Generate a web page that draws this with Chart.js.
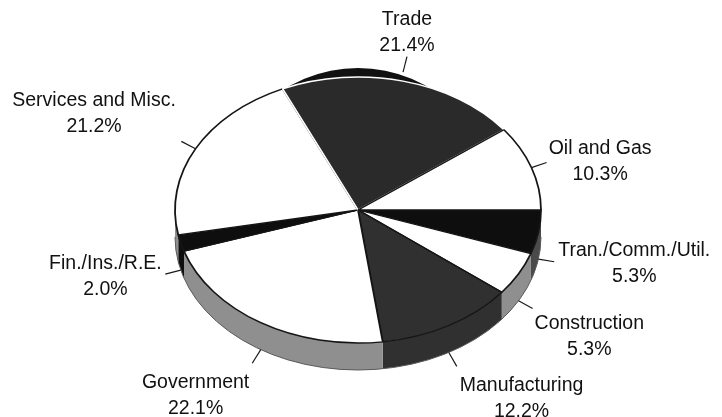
<!DOCTYPE html>
<html>
<head>
<meta charset="utf-8">
<script src="https://cdn.jsdelivr.net/npm/chart.js@4.4.1/dist/chart.umd.min.js"></script>
<style>
  html, body { margin: 0; padding: 0; background: #ffffff; }
  #wrap { position: relative; width: 722px; height: 417px; }
</style>
</head>
<body>
<div id="wrap"><canvas id="pie"></canvas></div>
<script>
// Sectors, clockwise from 3 o'clock
const categories = ['Tran./Comm./Util.', 'Construction', 'Manufacturing', 'Government',
                    'Fin./Ins./R.E.', 'Services and Misc.', 'Trade', 'Oil and Gas'];
const shares = [5.3, 5.3, 12.2, 22.1, 2.0, 21.2, 21.4, 10.3];
const percentLabels = shares.map(v => v.toFixed(1) + '%');

// Styling per sector
const topColors  = ['#0e0e0e', '#ffffff', '#303030', '#ffffff', '#0e0e0e', '#ffffff', '#2a2a2a', '#ffffff'];
const edgeColors = ['#151515', '#151515', '#151515', '#151515', '#151515', '#151515', '#ffffff', '#151515'];
const wallKinds  = ['dark', 'grey', 'self', 'grey', 'self', 'grey', 'self', 'grey'];
const liftPx     = [0, 0, 0, 0, 0, 0, 9, 0];

// Label placement relative to the end of each leader line
const labelPlacement = [
  { side: 'left',  gap: 4,   dy: 2 },
  { side: 'left',  gap: 2,   dy: 28 },
  { side: 'left',  gap: 3,   dy: 32 },
  { side: 'right', gap: 3,   dy: 32 },
  { side: 'right', gap: 3.5, dy: 2 },
  { side: 'right', gap: 5.5, dy: -28 },
  { side: 'top',   gap: 0,   dy: -24 },
  { side: 'left',  gap: 2,   dy: -1 }
];

const squash = 133 / 183;   // vertical flattening of the disc
const depth = 27;           // thickness of the disc wall, px
const rimWidth = 140;       // half-width of the raised rim
const leaderLen = 16;
const fontSpec = '19.5px "Liberation Sans", Arial, Helvetica, sans-serif';
const lineGap = 26;
const wallGrey = '#8f8f8f';

function wallFill(kind, i) {
  if (kind === 'grey') return wallGrey;
  if (kind === 'dark') return '#4a4a4a';
  return topColors[i];
}

const tiltPlugin = {
  id: 'tilt',
  beforeDatasetsDraw(chart) {
    const c = chart.ctx;
    const arcs = chart.getDatasetMeta(0).data;
    const cx = arcs[0].x, cy = arcs[0].y, rx = arcs[0].outerRadius, ry = rx * squash;

    // wall of the disc along the front half
    arcs.forEach((a, i) => {
      const s = Math.max(a.startAngle, 0), e = Math.min(a.endAngle, Math.PI);
      if (e <= s) return;
      c.beginPath();
      c.ellipse(cx, cy, rx, ry, 0, s, e, false);
      c.ellipse(cx, cy + depth, rx, ry, 0, e, s, true);
      c.closePath();
      c.fillStyle = wallFill(wallKinds[i], i);
      c.fill();
    });
    c.beginPath();
    c.ellipse(cx, cy + depth, rx, ry, 0, 0, Math.PI, false);
    c.lineWidth = 1;
    c.strokeStyle = '#5a5a5a';
    c.stroke();

    // raised rim of lifted sectors, bounded by the sector's own rays
    arcs.forEach((a, i) => {
      if (!liftPx[i]) return;
      c.save();
      c.beginPath();
      c.moveTo(cx, cy);
      c.lineTo(cx + 2 * rx * Math.cos(a.startAngle), cy + 2 * ry * Math.sin(a.startAngle));
      c.lineTo(cx + 2 * rx * Math.cos(a.endAngle), cy + 2 * ry * Math.sin(a.endAngle));
      c.closePath();
      c.clip();
      c.beginPath();
      c.ellipse(cx, cy, rimWidth, ry + liftPx[i], 0, 0, 2 * Math.PI);
      c.fillStyle = '#111111';
      c.fill();
      c.restore();
    });

    c.save();
    c.translate(cx, cy);
    c.scale(1, squash);
    c.translate(-cx, -cy);
  },
  afterDatasetsDraw(chart) {
    chart.ctx.restore();
  }
};

const labelPlugin = {
  id: 'sectorLabels',
  afterDraw(chart) {
    const c = chart.ctx;
    const arcs = chart.getDatasetMeta(0).data;
    const cx = arcs[0].x, cy = arcs[0].y, rx = arcs[0].outerRadius, ry = rx * squash;
    c.save();
    c.font = fontSpec;
    c.fillStyle = '#111111';
    c.textAlign = 'center';
    c.textBaseline = 'middle';
    arcs.forEach((a, i) => {
      const mid = (a.startAngle + a.endAngle) / 2;
      const ux = Math.cos(mid), uy = Math.sin(mid);
      const sx = cx + rx * ux;
      const sy = cy + ry * uy + (uy > 0 ? depth : 0) - liftPx[i];
      const ex = sx + leaderLen * ux, ey = sy + leaderLen * uy;
      c.beginPath();
      c.moveTo(sx, sy);
      c.lineTo(ex, ey);
      c.lineWidth = 1.2;
      c.strokeStyle = '#1a1a1a';
      c.stroke();

      const lines = [categories[i], percentLabels[i]];
      const w = Math.max(...lines.map(t => c.measureText(t).width));
      const p = labelPlacement[i];
      let tx = ex;
      if (p.side === 'left') tx = ex + p.gap + w / 2;
      else if (p.side === 'right') tx = ex - p.gap - w / 2;
      const ty = ey + p.dy;
      c.fillText(lines[0], tx, ty - lineGap / 2);
      c.fillText(lines[1], tx, ty + lineGap / 2);
    });
    c.restore();
  }
};

new Chart(document.getElementById('pie'), {
  type: 'pie',
  data: {
    labels: categories,
    datasets: [{
      data: shares,
      backgroundColor: topColors,
      borderColor: edgeColors,
      borderWidth: 1.8,
      hoverOffset: 0
    }]
  },
  options: {
    responsive: true,
    maintainAspectRatio: false,
    animation: false,
    events: [],
    rotation: 90,
    radius: 183,
    layout: { padding: { left: 175, right: 181, top: 27, bottom: 24 } },
    plugins: {
      legend: { display: false },
      tooltip: { enabled: false }
    }
  },
  plugins: [tiltPlugin, labelPlugin]
});
</script>
</body>
</html>
